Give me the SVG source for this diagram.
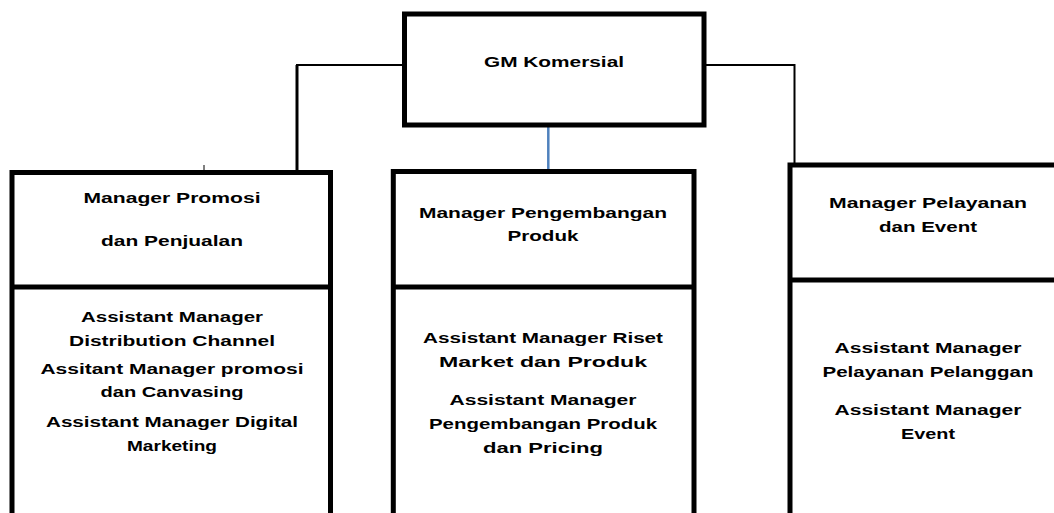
<svg xmlns="http://www.w3.org/2000/svg" width="1054" height="513" viewBox="0 0 1054 513">
<style>
.box{fill:#fff;stroke:#000;stroke-width:5}
.div{stroke:#000;stroke-width:5}
.t{font-family:"Liberation Sans",Arial,sans-serif;font-weight:bold;font-size:14px;fill:#000;text-anchor:middle}
.c{fill:none;stroke:#000;stroke-width:2}
</style>
<rect width="1054" height="513" fill="#fff"/>
<g id="connectors">
<polyline class="c" points="404,65 297,65 297,172"/>
<line x1="297" y1="65" x2="297" y2="172" stroke="#000" stroke-width="3"/>
<polyline class="c" points="704,65 794.5,65 794.5,165"/>
<line x1="548.3" y1="127" x2="548.3" y2="171" stroke="#4f81bd" stroke-width="2.5"/>
<line x1="204" y1="165" x2="204" y2="171" stroke="#000" stroke-width="1"/>
</g>
<g id="gm">
<rect class="box" x="404.5" y="14" width="299.5" height="111"/>
<text class="t" x="554" y="67" textLength="140" lengthAdjust="spacingAndGlyphs">GM Komersial</text>
</g>
<g id="manager-promosi">
<rect class="box" x="12" y="172.5" width="318.5" height="360"/>
<line class="div" x1="12" y1="287" x2="330.5" y2="287"/>
<text class="t" x="172" y="203" textLength="177" lengthAdjust="spacingAndGlyphs">Manager Promosi</text>
<text class="t" x="172" y="246" textLength="142" lengthAdjust="spacingAndGlyphs">dan Penjualan</text>
<text class="t" x="172" y="322" textLength="182" lengthAdjust="spacingAndGlyphs">Assistant Manager</text>
<text class="t" x="172" y="346" textLength="206" lengthAdjust="spacingAndGlyphs">Distribution Channel</text>
<text class="t" x="172" y="374" textLength="263" lengthAdjust="spacingAndGlyphs">Assitant Manager promosi</text>
<text class="t" x="172" y="397" textLength="143" lengthAdjust="spacingAndGlyphs">dan Canvasing</text>
<text class="t" x="172" y="427" textLength="252" lengthAdjust="spacingAndGlyphs">Assistant Manager Digital</text>
<text class="t" x="172" y="451" textLength="90" lengthAdjust="spacingAndGlyphs">Marketing</text>
</g>
<g id="manager-pengembangan">
<rect class="box" x="393.3" y="171.5" width="300.7" height="360"/>
<line class="div" x1="393.3" y1="287" x2="694" y2="287"/>
<text class="t" x="543" y="218" textLength="248" lengthAdjust="spacingAndGlyphs">Manager Pengembangan</text>
<text class="t" x="543" y="241" textLength="71" lengthAdjust="spacingAndGlyphs">Produk</text>
<text class="t" x="543" y="343" textLength="240" lengthAdjust="spacingAndGlyphs">Assistant Manager Riset</text>
<text class="t" x="543" y="367" textLength="208" lengthAdjust="spacingAndGlyphs">Market dan Produk</text>
<text class="t" x="543" y="405" textLength="187" lengthAdjust="spacingAndGlyphs">Assistant Manager</text>
<text class="t" x="543" y="429" textLength="228" lengthAdjust="spacingAndGlyphs">Pengembangan Produk</text>
<text class="t" x="543" y="453" textLength="120" lengthAdjust="spacingAndGlyphs">dan Pricing</text>
</g>
<g id="manager-pelayanan">
<rect class="box" x="790" y="165" width="300" height="360"/>
<line class="div" x1="790" y1="280" x2="1060" y2="280"/>
<text class="t" x="928" y="208" textLength="198" lengthAdjust="spacingAndGlyphs">Manager Pelayanan</text>
<text class="t" x="928" y="232" textLength="98" lengthAdjust="spacingAndGlyphs">dan Event</text>
<text class="t" x="928" y="353" textLength="187" lengthAdjust="spacingAndGlyphs">Assistant Manager</text>
<text class="t" x="928" y="377" textLength="211" lengthAdjust="spacingAndGlyphs">Pelayanan Pelanggan</text>
<text class="t" x="928" y="415" textLength="187" lengthAdjust="spacingAndGlyphs">Assistant Manager</text>
<text class="t" x="928" y="439" textLength="54" lengthAdjust="spacingAndGlyphs">Event</text>
</g>
</svg>
